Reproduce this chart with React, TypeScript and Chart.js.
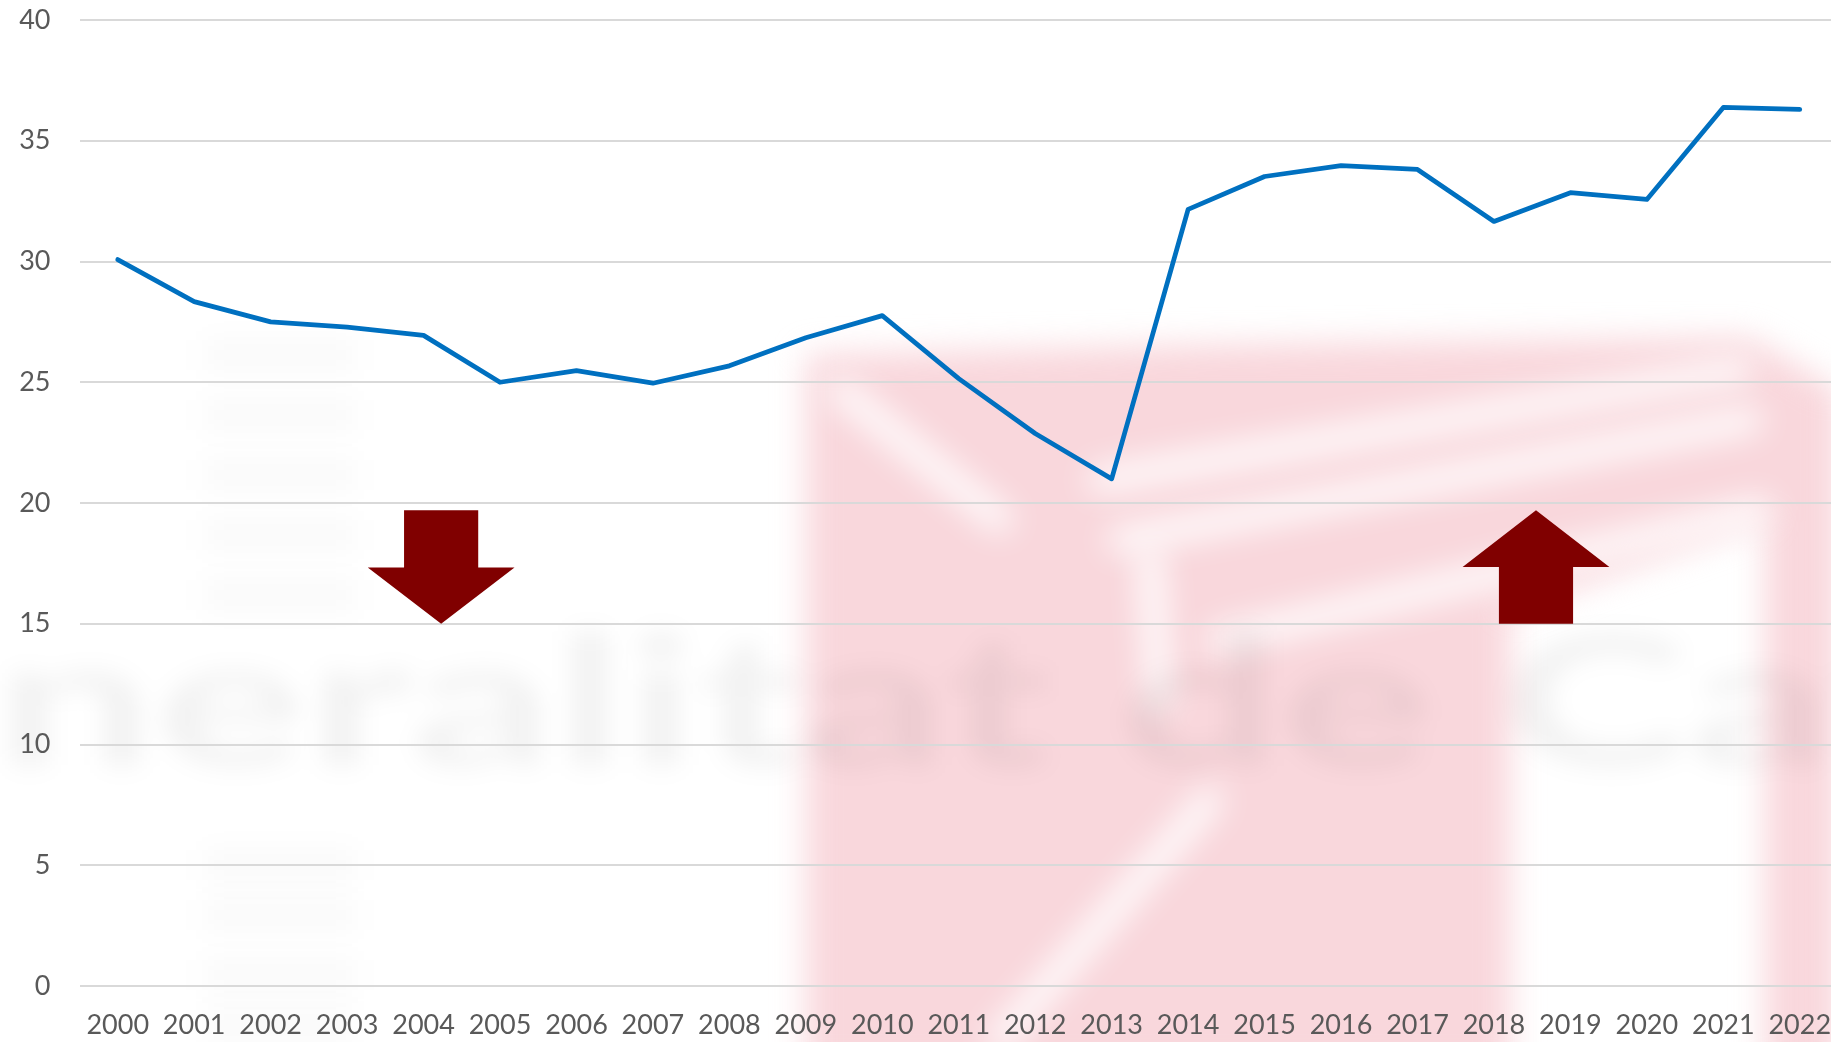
import React, { useEffect, useRef } from "react";
import { Chart, registerables } from "chart.js";

Chart.register(...registerables);

const years = [
  "2000", "2001", "2002", "2003", "2004", "2005", "2006", "2007", "2008", "2009", "2010", "2011",
  "2012", "2013", "2014", "2015", "2016", "2017", "2018", "2019", "2020", "2021", "2022",
];
const values = [
  30.08, 28.34, 27.5, 27.28, 26.94, 25.0, 25.48, 24.96, 25.68, 26.84, 27.76, 25.15,
  22.88, 21.0, 32.16, 33.52, 33.97, 33.81, 31.66, 32.85, 32.57, 36.38, 36.3,
];
const yTickValues = [0, 5, 10, 15, 20, 25, 30, 35, 40];

// Arrow annotations in data units (category index / value)
const downArrow = { center: 4.23, shaftHalf: 0.485, headHalf: 0.96, top: 19.7, neck: 17.33, tip: 15.0 };
const upArrow = { center: 18.55, shaftHalf: 0.485, headHalf: 0.96, tip: 19.7, neck: 17.35, bottom: 15.0 };

const FONT = "Lato, 'Open Sans', sans-serif";
const TEXT_COLOR = "#595959";

const watermarkPlugin = {
  id: "watermark",
  beforeDraw(chart: any) {
    const ctx = chart.ctx as CanvasRenderingContext2D;
    const W = chart.width;
    const H = chart.height;
    ctx.save();
    ctx.fillStyle = "#ffffff";
    ctx.fillRect(0, 0, W, H);

    // pink logo (blurred)
    ctx.filter = "blur(16px)";
    ctx.fillStyle = "rgba(246, 200, 206, 0.72)";
    ctx.beginPath();
    ctx.moveTo(806, 355);
    ctx.lineTo(1200, 345);
    ctx.lineTo(1750, 338);
    ctx.lineTo(1838, 390);
    ctx.lineTo(1838, H + 30);
    ctx.lineTo(1765, H + 30);
    ctx.lineTo(1765, 520);
    ctx.lineTo(1510, 610);
    ctx.lineTo(1510, H + 30);
    ctx.lineTo(806, H + 30);
    ctx.closePath();
    ctx.fill();

    // white diagonal stripes inside logo
    ctx.strokeStyle = "rgba(255,255,255,0.95)";
    ctx.lineCap = "round";
    ctx.lineWidth = 26;
    const stripes = [
      [840, 390, 1000, 520],
      [1120, 540, 1750, 420],
      [1220, 640, 1760, 510],
      [1000, 1040, 1210, 800],
      [1150, 560, 1160, 700],
      [1100, 480, 1740, 370],
    ];
    for (const s of stripes) {
      ctx.beginPath();
      ctx.moveTo(s[0], s[1]);
      ctx.lineTo(s[2], s[3]);
      ctx.stroke();
    }

    // grey watermark text
    ctx.filter = "blur(12px)";
    ctx.fillStyle = "rgba(0,0,0,0.05)";
    ctx.font = `bold 180px ${FONT}`;
    ctx.textBaseline = "alphabetic";
    const head = "neralitat de ";
    const wHead = ctx.measureText(head).width;
    const sx = 1506 / wHead;
    ctx.save();
    ctx.translate(-5, 765);
    ctx.scale(sx, 1);
    ctx.fillText(head + "Cat", 0, 0);
    ctx.restore();

    // vertical faint column of small text on the left
    ctx.filter = "blur(14px)";
    ctx.fillStyle = "rgba(0,0,0,0.025)";
    const bars = [340, 400, 460, 520, 580, 850, 900, 960, 1010];
    for (const y of bars) {
      ctx.fillRect(205, y, 150, 30);
    }
    ctx.restore();
  },
};

const arrowPlugin = {
  id: "arrows",
  afterDatasetsDraw(chart: any) {
    const ctx = chart.ctx as CanvasRenderingContext2D;
    const xs = chart.scales.x;
    const ys = chart.scales.y;
    const px = (v: number) => xs.getPixelForValue(v);
    const py = (v: number) => ys.getPixelForValue(v);
    ctx.save();
    ctx.fillStyle = "#800000";

    const d = downArrow;
    ctx.beginPath();
    ctx.moveTo(px(d.center - d.shaftHalf), py(d.top));
    ctx.lineTo(px(d.center + d.shaftHalf), py(d.top));
    ctx.lineTo(px(d.center + d.shaftHalf), py(d.neck));
    ctx.lineTo(px(d.center + d.headHalf), py(d.neck));
    ctx.lineTo(px(d.center), py(d.tip));
    ctx.lineTo(px(d.center - d.headHalf), py(d.neck));
    ctx.lineTo(px(d.center - d.shaftHalf), py(d.neck));
    ctx.closePath();
    ctx.fill();

    const u = upArrow;
    ctx.beginPath();
    ctx.moveTo(px(u.center), py(u.tip));
    ctx.lineTo(px(u.center + u.headHalf), py(u.neck));
    ctx.lineTo(px(u.center + u.shaftHalf), py(u.neck));
    ctx.lineTo(px(u.center + u.shaftHalf), py(u.bottom));
    ctx.lineTo(px(u.center - u.shaftHalf), py(u.bottom));
    ctx.lineTo(px(u.center - u.shaftHalf), py(u.neck));
    ctx.lineTo(px(u.center - u.headHalf), py(u.neck));
    ctx.closePath();
    ctx.fill();
    ctx.restore();
  },
};

export default function App() {
  const ref = useRef<HTMLCanvasElement | null>(null);

  useEffect(() => {
    document.body.style.margin = "0";
    document.body.style.overflow = "hidden";
    const canvas = ref.current;
    if (!canvas) return;
    const chart = new Chart(canvas, {
      type: "line",
      data: {
        labels: years,
        datasets: [
          {
            data: values,
            borderColor: "#0070C0",
            backgroundColor: "#0070C0",
            borderWidth: 4.75,
            pointRadius: 0,
            pointHoverRadius: 0,
            tension: 0,
            borderJoinStyle: "round",
            borderCapStyle: "round",
            fill: false,
          },
        ],
      },
      options: {
        responsive: false,
        animation: false,
        events: [],
        layout: { padding: { top: 20, right: 0, bottom: 0, left: 0 } },
        plugins: {
          legend: { display: false },
          tooltip: { enabled: false },
          title: { display: false },
        },
        scales: {
          x: {
            type: "category",
            offset: true,
            grid: { display: false, drawTicks: false },
            border: { display: false },
            afterFit: (scale: any) => {
              scale.height = 56;
              scale.paddingLeft = 0;
              scale.paddingRight = 0;
            },
            ticks: {
              color: TEXT_COLOR,
              font: { family: FONT, size: 27 },
              padding: 23,
              maxRotation: 0,
              minRotation: 0,
              autoSkip: false,
            },
          },
          y: {
            min: 0,
            max: 40,
            afterBuildTicks: (scale: any) => {
              scale.ticks = yTickValues.map((v) => ({ value: v }));
            },
            afterFit: (scale: any) => {
              scale.width = 79.5;
              scale.paddingTop = 0;
              scale.paddingBottom = 0;
            },
            grid: { color: "#d9d9d9", lineWidth: 2, drawTicks: false },
            border: { display: false },
            ticks: {
              color: TEXT_COLOR,
              font: { family: FONT, size: 27 },
              padding: 29,
            },
          },
        },
      },
      plugins: [watermarkPlugin, arrowPlugin],
    } as any);
    return () => chart.destroy();
  }, []);

  return (
    <div style={{ width: "1831px", height: "1042px", overflow: "hidden" }}>
      <canvas
        ref={ref}
        width={1838}
        height={1042}
        style={{ display: "block", width: "1838px", height: "1042px" }}
      />
    </div>
  );
}
